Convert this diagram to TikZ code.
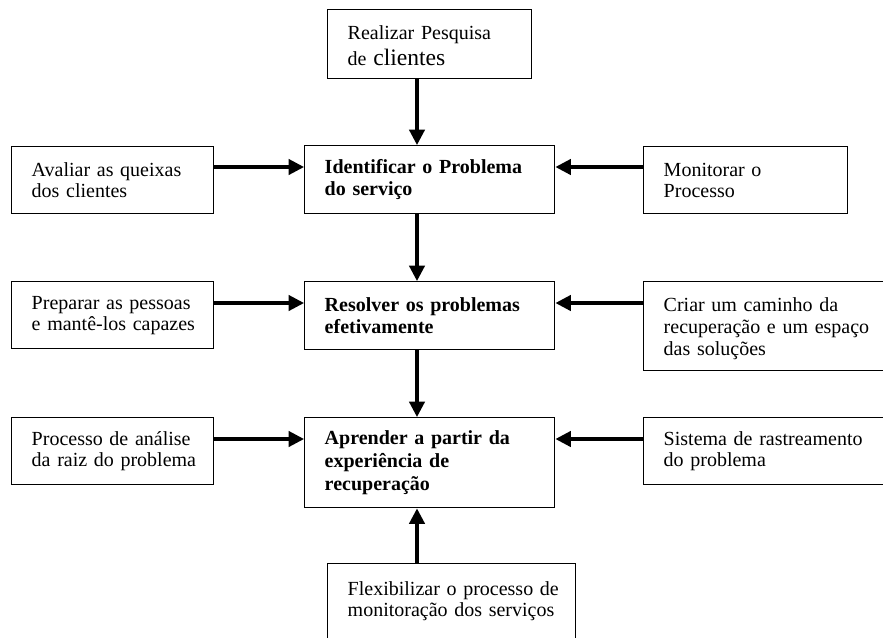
\documentclass[tikz,border=0pt]{standalone}
\usepackage{fontspec}
\setmainfont{Liberation Serif}
\usetikzlibrary{arrows.meta}
% one unbreakable line of box text
\newcommand{\boxline}[1]{\mbox{#1}}
\begin{document}
\begin{tikzpicture}[x=0.75pt, y=-0.75pt,
  every node/.style={font=\fontsize{15}{15.75}\selectfont},
  box/.style={draw, line width=1.1pt, rectangle, anchor=north west, align=left,
              inner xsep=15pt, inner ysep=3pt},
  main/.style={box, font=\fontsize{15}{16.5}\selectfont\bfseries},
  arr/.style={line width=2.3pt, -{Triangle[length=11.5pt,width=11.5pt]}}]
  \useasboundingbox (0,0) rectangle (883,637);
  \clip (0,0) rectangle (883,637);

  % column of the vertical connectors
  \coordinate (colx) at (417,0);

  % top source box
  \node[box, text width=123pt, minimum height=51.75pt] (survey) at (327,9)
    {\rule{0pt}{12pt}\boxline{Realizar Pesquisa}\\[3.75pt]\boxline{de {\fontsize{17.7}{18}\selectfont clientes}}};

  % central chain
  \node[main, text width=157.5pt, minimum height=51pt] (identify) at (304,145)
    {\boxline{Identificar o Problema}\\\boxline{do serviço}};
  \node[main, text width=157.5pt, minimum height=51pt] (solve) at (304,281)
    {\boxline{Resolver os problemas}\\\boxline{efetivamente}};
  \node[main, text width=157.5pt, minimum height=67.5pt,
        font=\fontsize{15}{17}\selectfont\bfseries] (learn) at (304,417)
    {\boxline{Aprender a partir da}\\\boxline{experiência de}\\\boxline{recuperação}};

  % left inputs
  \node[box, text width=121.5pt, minimum height=50.25pt] (complaints) at (11,146)
    {\boxline{Avaliar as queixas}\\\boxline{dos clientes}};
  \node[box, text width=121.5pt, minimum height=50.25pt] (people) at (11,281)
    {\boxline{Preparar as pessoas}\\\boxline{e mantê-los capazes}};
  \node[box, text width=121.5pt, minimum height=50.25pt] (rootcause) at (11,417)
    {\boxline{Processo de análise}\\\boxline{da raiz do problema}};

  % right inputs (the lower two run past the right edge)
  \node[box, text width=123pt, minimum height=50.25pt] (monitor) at (643,146)
    {\boxline{Monitorar o}\\\boxline{Processo}};
  \node[box, text width=190pt, minimum height=66.75pt,
        font=\fontsize{15}{16.2}\selectfont] (path) at (643,281)
    {\rule{0pt}{14pt}\boxline{Criar um caminho da}\\\boxline{recuperação e um espaço}\\\boxline{das soluções}};
  \node[box, text width=190pt, minimum height=50.25pt] (tracking) at (643,417)
    {\boxline{Sistema de rastreamento}\\\boxline{do problema}};

  % bottom source box, running past the lower edge
  \node[box, text width=156pt] (flex) at (327,563)
    {\rule{0pt}{21pt}\boxline{Flexibilizar o processo de}\\\boxline{monitoração dos serviços}\rule[-60pt]{0pt}{0pt}};

  % vertical connectors
  \draw[arr] (survey.south -| colx) -- (identify.north -| colx);
  \draw[arr] (identify.south -| colx) -- (solve.north -| colx);
  \draw[arr] (solve.south -| colx) -- (learn.north -| colx);
  \draw[arr] (flex.north -| colx) -- (learn.south -| colx);

  % horizontal connectors, entering each central box near its top
  \foreach \l/\m/\r in {complaints/identify/monitor, people/solve/path, rootcause/learn/tracking}{
    \draw[arr] ([yshift=-16.5pt]\m.north west -| \l.east) -- ([yshift=-16.5pt]\m.north west);
    \draw[arr] ([yshift=-16.5pt]\m.north east -| \r.west) -- ([yshift=-16.5pt]\m.north east);
  }
\end{tikzpicture}
\end{document}
